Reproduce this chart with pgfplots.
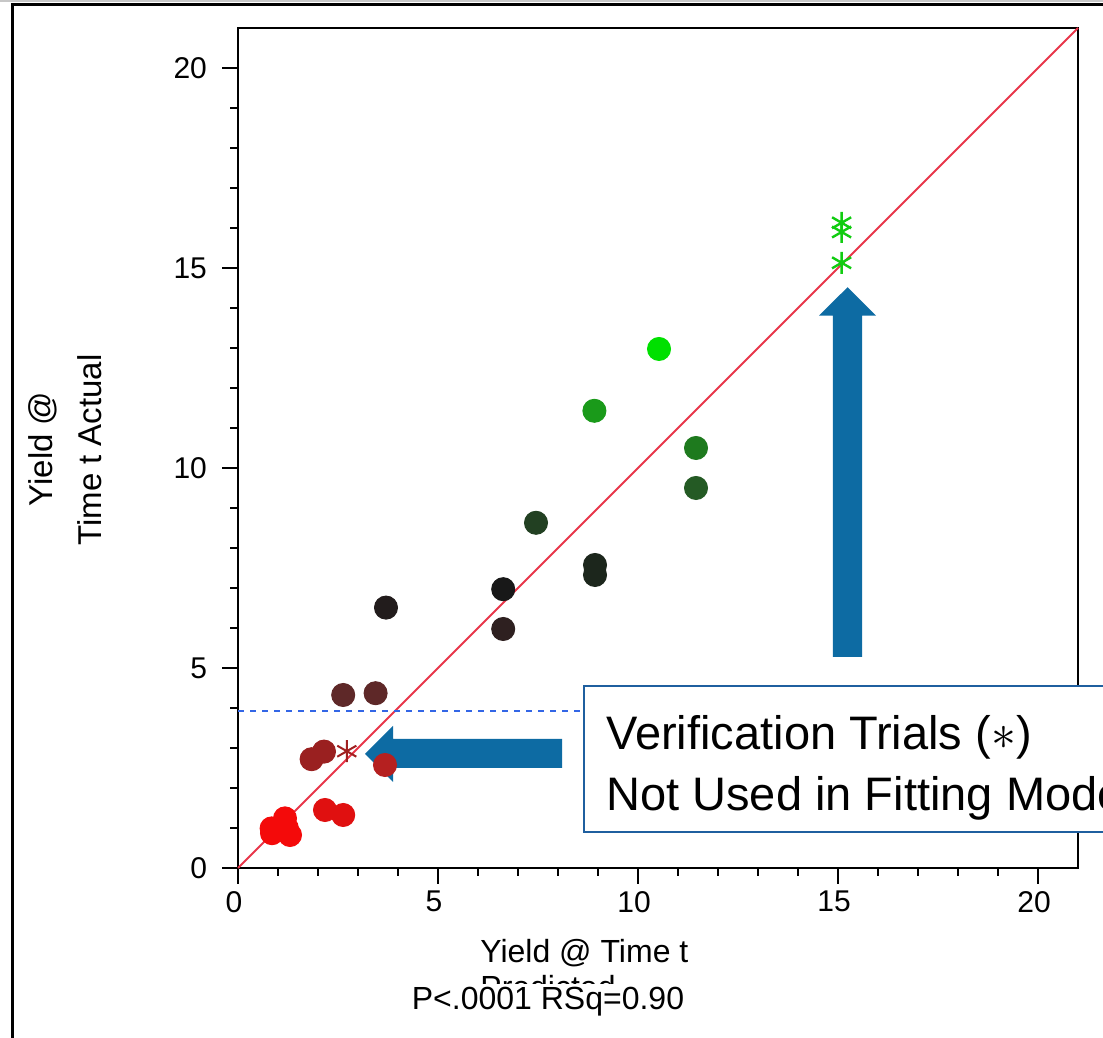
\documentclass[border=0pt]{standalone}
\usepackage{fontspec}
\setmainfont{Liberation Sans}
\usepackage{pgfplots}
\pgfplotsset{compat=1.18}
\definecolor{cA}{HTML}{00E000}
\definecolor{cB}{HTML}{1A9A1A}
\definecolor{cC}{HTML}{1E7A1E}
\definecolor{cD}{HTML}{245A24}
\definecolor{cE}{HTML}{224022}
\definecolor{cF}{HTML}{1C261C}
\definecolor{cG}{HTML}{181818}
\definecolor{cH}{HTML}{221C1C}
\definecolor{cI}{HTML}{2E2020}
\definecolor{cJ}{HTML}{5E2828}
\definecolor{cK}{HTML}{9A2020}
\definecolor{cL}{HTML}{B52020}
\definecolor{cM}{HTML}{E01010}
\definecolor{cN}{HTML}{F40A0A}
\definecolor{starG}{HTML}{11CC11}
\definecolor{starR}{HTML}{A02020}
\definecolor{diag}{HTML}{E8364A}
\definecolor{dotblue}{HTML}{3366E6}
\definecolor{arrowblue}{HTML}{0D6BA3}
\definecolor{boxblue}{HTML}{1F5F9F}
\pgfplotsset{dot/.style={only marks, mark=*, mark size=5.75pt, color=#1, line width=0.5pt}}
\begin{document}
\begin{tikzpicture}[x=1pt,y=1pt]
\useasboundingbox (0,0) rectangle (551.5,519);
\clip (0,0) rectangle (551.5,519);
\draw[black!22, line width=1pt] (0,518.7) -- (551.5,518.7);
\draw[black, line width=1.5pt] (6,-5) -- (6,516.5) -- (560,516.5);
\begin{axis}[
  at={(119pt,85pt)}, anchor=south west,
  scale only axis, width=420pt, height=420pt,
  xmin=0, xmax=21, ymin=0, ymax=21,
  xtick={0,5,10,15,20}, ytick={0,5,10,15,20},
  minor tick num=4,
  tick align=outside, tick pos=left,
  major tick length=8pt, minor tick length=4pt,
  every tick/.style={black, line width=1pt},
  axis line style={black, line width=1pt},
  ticklabel style={font=\fontsize{15}{18}\selectfont},
  yticklabel style={xshift=-4pt},
  xticklabel style={xshift=-2pt},
  /pgf/number format/assume math mode=true,
  clip=false,
]
\addplot[diag, line width=1pt] coordinates {(0,0) (21,21)};
\draw[dotblue, line width=1.1pt, dash pattern=on 3pt off 3pt] (axis cs:0,3.925) -- (axis cs:13,3.925);
\addplot[dot=cA] coordinates {(10.525,12.975)};
\addplot[dot=cB] coordinates {(8.91,11.43)};
\addplot[dot=cC] coordinates {(11.45,10.5)};
\addplot[dot=cD] coordinates {(11.45,9.5)};
\addplot[dot=cE] coordinates {(7.45,8.63)};
\addplot[dot=cF] coordinates {(8.925,7.575) (8.925,7.325)};
\addplot[dot=cG] coordinates {(6.63,6.97)};
\addplot[dot=cH] coordinates {(3.7,6.51)};
\addplot[dot=cI] coordinates {(6.63,5.975)};
\addplot[dot=cJ] coordinates {(2.63,4.325) (3.44,4.37)};
\addplot[dot=cK] coordinates {(1.84,2.72) (2.15,2.91)};
\addplot[dot=cL] coordinates {(3.675,2.575)};
\addplot[dot=cM] coordinates {(2.175,1.45) (2.63,1.325)};
\addplot[dot=cN] coordinates {(0.84,0.99) (0.85,0.87) (1.3,0.825) (1.22,1.0) (1.175,1.24)};
\addplot[only marks, mark=asterisk, mark size=5.5pt, mark options={starG, line width=1.2pt}] coordinates {(15.09,16.13) (15.09,15.9) (15.09,15.13)};
\addplot[only marks, mark=asterisk, mark size=5.5pt, mark options={starR, line width=1pt}] coordinates {(2.72,2.92)};
\fill[arrowblue] (axis cs:8.1,3.225) -- (axis cs:3.875,3.225) -- (axis cs:3.875,3.55) -- (axis cs:3.175,2.85) -- (axis cs:3.875,2.15) -- (axis cs:3.875,2.5) -- (axis cs:8.1,2.5) -- cycle;
\fill[arrowblue] (axis cs:14.87,5.28) -- (axis cs:14.87,13.81) -- (axis cs:14.525,13.81) -- (axis cs:15.24,14.52) -- (axis cs:15.95,13.81) -- (axis cs:15.6,13.81) -- (axis cs:15.6,5.28) -- cycle;
\end{axis}
\draw[boxblue, line width=1pt, fill=white] (292,103) rectangle (600,176);
\node[anchor=base west, inner sep=0pt, font=\fontsize{23.5}{28}\selectfont] at (303,144) {Verification Trials ($\ast$)};
\node[anchor=base west, inner sep=0pt, font=\fontsize{23.5}{28}\selectfont] at (303,113.6) {Not Used in Fitting Model};
\node[anchor=base west, inner sep=0pt, font=\fontsize{16}{19}\selectfont] at (240,37.5) {Yield @ Time t};
\node[anchor=base west, inner sep=0pt, font=\fontsize{16}{19}\selectfont] at (240,19.5) {Predicted};
\fill[white] (195,3) rectangle (355,27);
\node[anchor=base, inner sep=0pt, font=\fontsize{16}{19}\selectfont] at (274,14) {P<.0001 RSq=0.90};
\node[rotate=90, anchor=base, inner sep=0pt, font=\fontsize{16.5}{19}\selectfont] at (26.5,294.5) {Yield @};
\node[rotate=90, anchor=base, inner sep=0pt, font=\fontsize{16.5}{19}\selectfont] at (50.8,294) {Time t Actual};
\end{tikzpicture}
\end{document}
